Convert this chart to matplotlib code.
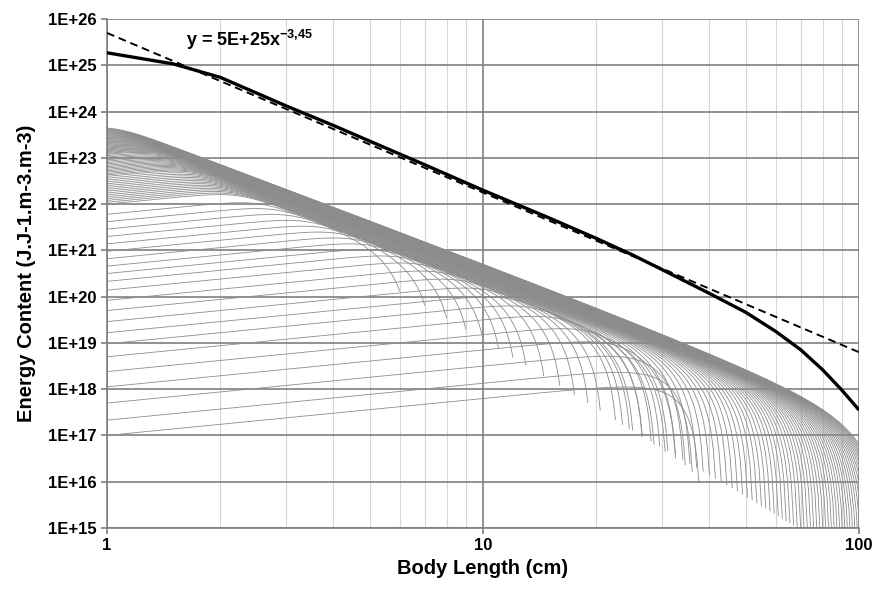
import numpy as np
import matplotlib.pyplot as plt
from matplotlib.ticker import FixedLocator, FuncFormatter, NullFormatter

plt.rcParams["font.family"] = ["Liberation Sans", "DejaVu Sans"]
plt.rcParams["mathtext.fontset"] = "custom"
plt.rcParams["mathtext.rm"] = "Liberation Sans"
plt.rcParams["mathtext.bf"] = "Liberation Sans:bold"

# community energy spectrum (log10 values at these lengths)
total_length = [1, 1.5, 2, 3, 4, 5, 7, 10, 15, 20, 25, 30, 40, 50, 60, 70, 80, 90, 100]
total_log_energy = [25.27, 25.03, 24.74, 24.12, 23.7, 23.36, 22.85, 22.3, 21.7, 21.26,
                    20.9, 20.58, 20.07, 19.66, 19.25, 18.85, 18.42, 17.98, 17.55]

# power-law fit of the community spectrum
fit_coef = 5e25
fit_exp = -3.45

# species curves below the band: log10 energy at 1 cm and maximum length (cm)
small_start = [17.00, 17.33, 17.70, 18.05, 18.38, 18.70, 18.98, 19.22, 19.46, 19.70, 19.92,
               20.14, 20.33, 20.50, 20.66, 20.82, 20.98, 21.14, 21.30, 21.46, 21.62, 21.78]
small_lmax = [38, 36.5, 35, 33, 31, 29, 27, 25, 23, 21, 19.5,
              18, 16.5, 15, 13.5, 12.5, 11.5, 10.5, 9.5, 8.5, 7.5, 6.5]

# species curves that run along the band
large_start = [22.00, 22.04, 22.08, 22.12, 22.16, 22.20, 22.24, 22.28,
               22.32, 22.36, 22.40, 22.44, 22.48, 22.52, 22.56, 22.60,
               22.63, 22.66, 22.69, 22.72, 22.75, 22.78, 22.81, 22.84,
               22.87, 22.90, 22.93, 22.96, 22.99, 23.02, 23.05, 23.08,
               23.10, 23.12, 23.14, 23.16, 23.18, 23.20, 23.22, 23.24,
               23.26, 23.28, 23.30, 23.32, 23.34, 23.36, 23.38, 23.40,
               23.42, 23.44, 23.46, 23.48, 23.50, 23.52, 23.54, 23.56,
               23.58, 23.60, 23.62, 23.64, 23.66, 23.68, 23.70, 23.72]
large_lmax = [24, 25.5, 27, 28.5, 30, 31.5, 33, 34.5,
              36, 37.5, 39, 40.5, 42, 43.5, 45, 46.5,
              48, 49.5, 51, 52.5, 54, 55.5, 57, 58.5,
              60, 61.5, 63, 64.5, 66, 67.5, 69, 70.5,
              72, 73.5, 75, 76.5, 78, 79.5, 81, 82.5,
              84, 85.5, 87, 88.5, 90, 91.5, 93, 94.5,
              96, 97.5, 99, 100.5, 102, 103.5, 105, 106.5,
              108, 109.5, 111, 112.5, 114, 115.5, 117, 118.5]

# shape of a species curve
growth_slope = 0.8
ceiling_log = 23.8
ceiling_exp = -3.05
ceiling_len = 150.0
blend = 3.0

y_ticks = [10.0 ** p for p in range(15, 27)]
x_ticks = [1, 10, 100]


def species_curve(start, lmax):
    x = np.geomspace(1, lmax - 0.5, 300)
    lx = np.log10(x)
    rise = start + growth_slope * lx
    offset = max(0.25 * (start - ceiling_log), -0.45)
    cap = ceiling_log + offset + ceiling_exp * lx + np.log10(1 - x / ceiling_len)
    ln10 = np.log(10)
    base = -np.logaddexp(-blend * rise * ln10, -blend * cap * ln10) / (blend * ln10)
    cut = 2 * np.log10(1 - (x / lmax) ** 6)
    return x, 10 ** (base + cut)


fig = plt.figure(figsize=(8.73, 5.89), dpi=100)
ax = fig.add_axes([0.1226, 0.1036, 0.8614, 0.8641])

for start, lmax in zip(small_start + large_start, small_lmax + large_lmax):
    x, y = species_curve(start, lmax)
    ax.plot(x, y, color="#8c8c8c", lw=0.6, zorder=2)

fit_x = np.array([1, 100])
ax.plot(fit_x, fit_coef * fit_x ** fit_exp, color="black", lw=1.4,
        linestyle=(0, (4, 2.5)), zorder=4)
ax.plot(total_length, 10 ** np.array(total_log_energy), color="black", lw=2.4,
        solid_capstyle="butt", zorder=5)

ax.set_xscale("log")
ax.set_yscale("log")
ax.set_xlim(1, 100)
ax.set_ylim(1e15, 1e26)

ax.xaxis.set_major_locator(FixedLocator(x_ticks))
ax.xaxis.set_major_formatter(FuncFormatter(lambda v, p: f"{v:g}"))
ax.xaxis.set_minor_locator(FixedLocator([2, 3, 4, 5, 6, 7, 8, 9,
                                         20, 30, 40, 50, 60, 70, 80, 90]))
ax.xaxis.set_minor_formatter(NullFormatter())
ax.yaxis.set_major_locator(FixedLocator(y_ticks))
ax.yaxis.set_major_formatter(FuncFormatter(lambda v, p: f"1E+{int(round(np.log10(v)))}"))
ax.yaxis.set_minor_locator(FixedLocator([]))

ax.set_axisbelow(True)
ax.grid(True, which="major", axis="both", color="#7f7f7f", lw=1.2)
ax.grid(True, which="minor", axis="x", color="#d6d6d6", lw=0.8)

for side in ("top", "right"):
    ax.spines[side].set_visible(False)
for side in ("left", "bottom"):
    ax.spines[side].set_color("#7f7f7f")
    ax.spines[side].set_linewidth(1.2)
ax.tick_params(which="major", length=4.5, width=1.2, color="#7f7f7f",
               labelsize=12, pad=3)
ax.tick_params(which="minor", length=0)
for lab in ax.get_xticklabels() + ax.get_yticklabels():
    lab.set_fontweight("bold")

ax.set_xlabel("Body Length (cm)", fontsize=14.5, fontweight="bold")
ax.set_ylabel("Energy Content (J.J-1.m-3.m-3)", fontsize=14.5, fontweight="bold")
ax.xaxis.set_label_coords(0.5, -0.06)
ax.yaxis.set_label_coords(-0.094, 0.5)

ax.text(1.62, 10 ** 25.42, r"y = 5E+25x$^{\mathbf{-3{,}45}}$", fontsize=13,
        fontweight="bold", ha="left", va="baseline", zorder=6)

fig.savefig("out.png", dpi=100)
